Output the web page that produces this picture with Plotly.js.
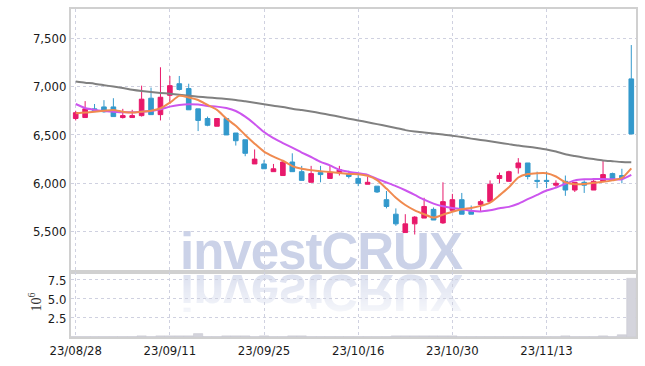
<!DOCTYPE html>
<html>
<head>
<meta charset="utf-8">
<script src="https://cdn.plot.ly/plotly-3.0.1.min.js"></script>
<style>
  html, body { margin: 0; padding: 0; background: #ffffff; }
  #wrap { position: relative; width: 645px; height: 366px; overflow: hidden; }
  #wm1 { position: absolute; left: 180px; top: 232px; height: 40px; font-family: 'Liberation Sans', Arial, sans-serif;
         font-weight: bold; font-size: 51px; line-height: 40px; letter-spacing: -1px; white-space: nowrap; color: #cbd2e8;
         -webkit-box-reflect: below 0px linear-gradient(to bottom, rgba(0,0,0,0.2) 0%, rgba(0,0,0,0.7) 100%); }
  #chart { position: absolute; left: 0; top: 0; width: 645px; height: 366px; }
</style>
</head>
<body>
<div id="wrap">
  <div id="wm1">investCRUX</div>
  <div id="chart"></div>
</div>
<script>
const dates = ['2023-08-28','2023-08-29','2023-08-30','2023-08-31','2023-09-01','2023-09-04','2023-09-05','2023-09-06','2023-09-07','2023-09-08',
  '2023-09-11','2023-09-12','2023-09-13','2023-09-14','2023-09-15','2023-09-18','2023-09-19','2023-09-20','2023-09-21','2023-09-22',
  '2023-09-25','2023-09-26','2023-09-27','2023-10-04','2023-10-05','2023-10-06','2023-10-10','2023-10-11','2023-10-12','2023-10-13',
  '2023-10-16','2023-10-17','2023-10-18','2023-10-19','2023-10-20','2023-10-23','2023-10-24','2023-10-25','2023-10-26','2023-10-27',
  '2023-10-30','2023-10-31','2023-11-01','2023-11-02','2023-11-03','2023-11-06','2023-11-07','2023-11-08','2023-11-09','2023-11-10',
  '2023-11-13','2023-11-14','2023-11-15','2023-11-16','2023-11-17','2023-11-20','2023-11-21','2023-11-22','2023-11-23','2023-11-24'];

const openP  = [6670,6680,6770,6790,6790,6680,6680,6700,6880,6710, 6910,7030,6980,6770,6670,6590,6670,6520,6450,6200,
                6200,6120,6080,6220,6120,6010,6110,6050,6110,6090, 6050,5990,5970,5830,5680,5490,5580,5640,5730,5590,
                5720,5830,5710,5780,5810,6050,6020,6160,6210,6030, 6030,5980,6020,5930,6010,5930,6020,6100,6080,7080];
const highP  = [6750,6850,6820,6860,6880,6770,6760,7010,6990,7200, 7110,7110,7030,6770,6690,6670,6670,6520,6450,6350,
                6240,6200,6230,6310,6180,6180,6180,6180,6180,6130, 6100,6070,5970,5920,5740,5680,5660,5850,5750,6010,
                5890,5900,5770,5830,6030,6110,6130,6260,6210,6120, 6120,6030,6080,6010,6030,6050,6230,6110,6150,7430];
const lowP   = [6650,6680,6740,6730,6690,6670,6680,6690,6710,6650, 6820,6960,6760,6540,6590,6590,6500,6390,6280,6200,
                6150,6120,6080,6120,6030,6010,6010,6050,6080,6050, 5970,5990,5900,5740,5560,5490,5470,5640,5620,5580,
                5720,5680,5680,5710,5810,6000,6020,6100,6040,5950, 5950,5950,5870,5910,5900,5930,6020,6030,6000,6510];
const closeP = [6730,6770,6750,6740,6690,6700,6700,6870,6710,6890, 7010,6970,6760,6650,6600,6670,6500,6440,6310,6250,
                6150,6150,6220,6120,6030,6100,6090,6110,6140,6070, 6000,6010,5910,5760,5580,5580,5650,5760,5620,5810,
                5830,5680,5680,5810,5990,6080,6120,6210,6070,6020, 6020,6000,5930,6010,5980,6020,6090,6050,6050,6510];

const maShort = [6724,6731,6741,6751,6759,6741,6731,6741,6751,6776, 6834,6904,6888,6862,6810,6759,6670,6595,6500,6410,
                 6327,6275,6233,6178,6150,6136,6125,6116,6106,6096, 6093,6077,6033,5945,5850,5775,5720,5680,5645,5675,
                 5706,5731,5745,5766,5800,5875,5958,6060,6095,6104, 6104,6070,6010,5990,5993,6005,6015,6030,6055,6155];
const maMid   = [6820,6778,6759,6748,6741,6735,6735,6741,6748,6766, 6793,6810,6818,6814,6800,6793,6778,6748,6690,6614,
                 6530,6466,6416,6368,6318,6272,6222,6185,6140,6120, 6104,6087,6046,6008,5970,5928,5880,5830,5790,5762,
                 5745,5732,5715,5708,5720,5741,5756,5788,5835,5880, 5925,5955,5995,6030,6041,6043,6045,6041,6041,6086];
const maLong  = [7052,7040,7030,7015,7000,6985,6968,6955,6945,6935, 6927,6917,6905,6895,6888,6880,6872,6862,6848,6833,
                 6818,6803,6790,6772,6757,6742,6725,6707,6688,6668, 6650,6632,6612,6593,6572,6550,6535,6525,6515,6505,
                 6492,6478,6462,6448,6435,6420,6405,6390,6378,6365, 6350,6328,6300,6282,6265,6250,6236,6228,6220,6217];

const volume = [60000,60000,60000,60000,60000,60000,60000,150000,60000,150000, 150000,150000,150000,450000,60000,60000,150000,150000,150000,60000,
                150000,60000,60000,150000,150000,60000,60000,60000,60000,60000, 60000,60000,60000,60000,150000,150000,150000,150000,150000,150000,
                150000,60000,60000,60000,60000,60000,60000,60000,60000,60000, 60000,60000,150000,60000,60000,60000,150000,60000,300000,7720000];

const tickIdx = [0,10,20,30,40,50];
const tickLabels = ['23/08/28','23/09/11','23/09/25','23/10/16','23/10/30','23/11/13'];
const priceTicks = [5500,6000,6500,7000,7500];
const volTicks = [2500000,5000000,7500000];
const volTickLabels = ['2.5','5.0','7.5'];

const tickVals = tickIdx.map(i => dates[i]);
const PINK = '#e8196b', BLUE = '#3399cc';
const tickFont = {family: "'DejaVu Sans Condensed', 'Liberation Sans Narrow', sans-serif", size: 13, color: '#1a1a1a'};
const gridC = '#cfd1e0', lineC = '#d0d0d0';

const traces = [
  {type:'scatter', mode:'lines', x:dates, y:maLong, xaxis:'x', yaxis:'y', line:{color:'#808080', width:2, shape:'spline', smoothing:0.6}, hoverinfo:'skip'},
  {type:'scatter', mode:'lines', x:dates, y:maMid, xaxis:'x', yaxis:'y', line:{color:'#cc55ee', width:2, shape:'spline', smoothing:0.6}, hoverinfo:'skip'},
  {type:'scatter', mode:'lines', x:dates, y:maShort, xaxis:'x', yaxis:'y', line:{color:'#f08a4f', width:2, shape:'spline', smoothing:0.6}, hoverinfo:'skip'},
  {type:'candlestick', x:dates, open:openP, high:highP, low:lowP, close:closeP, xaxis:'x', yaxis:'y',
   increasing:{line:{color:PINK, width:1}, fillcolor:PINK},
   decreasing:{line:{color:BLUE, width:1}, fillcolor:BLUE}, whiskerwidth:0},
  {type:'bar', x:dates, y:volume, xaxis:'x2', yaxis:'y2', marker:{color:'#d4d4dc', line:{color:'#c4c4ce', width:0.5}}}
];

const layout = {
  width:645, height:366, showlegend:false,
  paper_bgcolor:'rgba(0,0,0,0)', plot_bgcolor:'rgba(0,0,0,0)',
  margin:{l:71, r:9, t:9, b:29},
  boxgap:0.3, bargap:0.02,
  xaxis:{type:'category', categoryorder:'array', categoryarray:dates, range:[-0.5,59.5], domain:[0,1], anchor:'y',
         tickvals:tickVals, showticklabels:false, ticks:'', showgrid:true, gridcolor:gridC, griddash:'dot', gridwidth:1,
         showline:true, mirror:true, linecolor:lineC, linewidth:2, rangeslider:{visible:false}, zeroline:false},
  yaxis:{domain:[0.19817,1], anchor:'x', range:[5082,7803], tickvals:priceTicks, tickformat:',', tickfont:tickFont,
         showgrid:true, gridcolor:gridC, griddash:'dot', gridwidth:1, showline:true, mirror:true, linecolor:lineC, linewidth:2,
         zeroline:false, ticks:''},
  xaxis2:{type:'category', categoryorder:'array', categoryarray:dates, range:[-0.5,59.5], domain:[0,1], anchor:'y2',
          tickvals:tickVals, ticktext:tickLabels, tickfont:tickFont, ticks:'', showgrid:true, gridcolor:gridC, griddash:'dot',
          gridwidth:1, showline:true, mirror:true, linecolor:lineC, linewidth:2, zeroline:false},
  yaxis2:{domain:[0,0.19817], anchor:'x2', range:[0,8550000], tickvals:volTicks, ticktext:volTickLabels, tickfont:tickFont,
          showgrid:true, gridcolor:gridC, griddash:'dot', gridwidth:1, showline:true, mirror:true, linecolor:lineC, linewidth:2,
          zeroline:false, ticks:''},
  annotations:[{text:'10<sup>6</sup>', xref:'paper', yref:'paper', x:-0.063, y:0.1067, xanchor:'center', yanchor:'middle',
                textangle:-90, showarrow:false, font:{family:"'Liberation Serif', 'DejaVu Serif', serif", size:14, color:'#333333'}}]
};

Plotly.newPlot('chart', traces, layout, {displayModeBar:false, staticPlot:true});
</script>
</body>
</html>
